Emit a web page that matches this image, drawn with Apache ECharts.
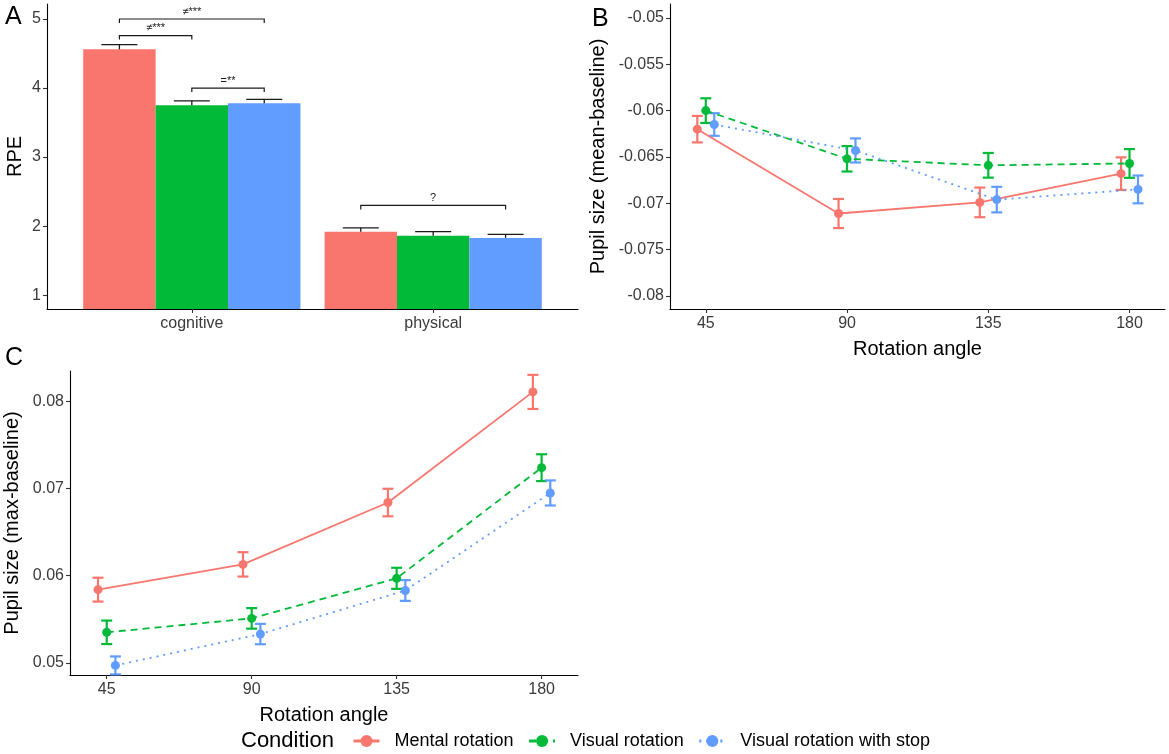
<!DOCTYPE html>
<html>
<head>
<meta charset="utf-8">
<script src="https://cdn.jsdelivr.net/npm/echarts@6/dist/echarts.min.js"></script>
<style>html,body{margin:0;padding:0;background:#fff}#chart{width:1169px;height:754px}</style>
</head>
<body>
<div id="chart"></div>
<script>
// ---------- data ----------
const conditions = ['Mental rotation', 'Visual rotation', 'Visual rotation with stop'];

// Panel A: RPE
const rpeCategories = ['cognitive', 'physical'];
const rpeMental = [4.56, 1.92];
const rpeVisual = [3.75, 1.86];
const rpeVisualStop = [3.78, 1.83];
const rpeMentalSE = [0.07, 0.055];
const rpeVisualSE = [0.065, 0.06];
const rpeVisualStopSE = [0.055, 0.05];
const rpeTicks = [1, 2, 3, 4, 5];

// significance brackets (panel A)
const sigGroup = ['cognitive', 'cognitive', 'cognitive', 'physical'];
const sigFrom = ['Mental rotation', 'Mental rotation', 'Visual rotation', 'Mental rotation'];
const sigTo = ['Visual rotation with stop', 'Visual rotation', 'Visual rotation with stop', 'Visual rotation with stop'];
const sigLevel = [5.0, 4.76, 4.0, 2.3];
const sigLabel = ['≠***', '≠***', '=**', '?'];

// Panels B and C
const angles = [45, 90, 135, 180];

const meanMental = [-0.0620, -0.0711, -0.0699, -0.0668];
const meanVisual = [-0.0600, -0.0652, -0.0659, -0.0657];
const meanVisualStop = [-0.0615, -0.0643, -0.0696, -0.0685];
const meanMentalSE = [0.00143, 0.00157, 0.0016, 0.00176];
const meanVisualSE = [0.00133, 0.00137, 0.00133, 0.00155];
const meanVisualStopSE = [0.00122, 0.0013, 0.00138, 0.0015];
const meanTicks = [-0.08, -0.075, -0.07, -0.065, -0.06, -0.055, -0.05];
const meanTickLabels = ['-0.08', '-0.075', '-0.07', '-0.065', '-0.06', '-0.055', '-0.05'];

const maxMental = [0.0584, 0.0613, 0.0684, 0.0811];
const maxVisual = [0.0535, 0.0551, 0.0597, 0.0724];
const maxVisualStop = [0.0497, 0.0533, 0.0583, 0.0695];
const maxMentalSE = [0.00137, 0.0014, 0.00158, 0.00196];
const maxVisualSE = [0.00135, 0.00118, 0.00121, 0.00154];
const maxVisualStopSE = [0.00103, 0.00117, 0.00119, 0.00144];
const maxTicks = [0.05, 0.06, 0.07, 0.08];
const maxTickLabels = ['0.05', '0.06', '0.07', '0.08'];

// ---------- style ----------
const FONT = '"Liberation Sans", Arial, sans-serif';
const colors = ['#F8766D', '#00BA38', '#619CFF'];
const lineTypes = ['solid', [7, 5], [2, 5]];
const barDodge = 0.3;     // x-units between bars within a group
const pointDodge = 2.7;   // x-units between conditions in line panels

const rpeValues = [rpeMental, rpeVisual, rpeVisualStop];
const rpeSE = [rpeMentalSE, rpeVisualSE, rpeVisualStopSE];
const meanValues = [meanMental, meanVisual, meanVisualStop];
const meanSE = [meanMentalSE, meanVisualSE, meanVisualStopSE];
const maxValues = [maxMental, maxVisual, maxVisualStop];
const maxSE = [maxMentalSE, maxVisualSE, maxVisualStopSE];

const groupPos = c => rpeCategories.indexOf(c) + 1;
const condOffset = c => conditions.indexOf(c) - 1;

function errorSeries(name, xi, yi, data, color, capPx, lw, bothCaps, z) {
  return {
    type: 'custom', name: name, xAxisIndex: xi, yAxisIndex: yi, z: z,
    silent: true,
    encode: { x: 0, y: [1, 2] },
    data: data,
    renderItem: function (params, api) {
      const x = api.value(0), lo = api.value(1), hi = api.value(2);
      const pt = api.coord([x, hi]);
      const pb = api.coord([x, lo]);
      const h = capPx / 2;
      const st = { stroke: color, lineWidth: lw };
      const children = [
        { type: 'line', shape: { x1: pt[0], y1: pt[1], x2: pb[0], y2: pb[1] }, style: st },
        { type: 'line', shape: { x1: pt[0] - h, y1: pt[1], x2: pt[0] + h, y2: pt[1] }, style: st }
      ];
      if (bothCaps) children.push({ type: 'line', shape: { x1: pb[0] - h, y1: pb[1], x2: pb[0] + h, y2: pb[1] }, style: st });
      return { type: 'group', children: children };
    }
  };
}

const axisLineStyle = { show: true, onZero: false, lineStyle: { color: '#000', width: 1.1 } };
const tickStyle = { show: true, length: 4, lineStyle: { color: '#333', width: 1.1 } };
const labelBase = { color: '#3a3a3a', fontSize: 16, fontFamily: FONT };

function lineX(gridIndex, nameGap) {
  return {
    type: 'value', gridIndex: gridIndex, min: 33.6, max: 191.3,
    name: 'Rotation angle', nameLocation: 'middle', nameGap: nameGap,
    nameTextStyle: { color: '#000', fontSize: 20, fontFamily: FONT },
    axisLine: axisLineStyle,
    axisTick: Object.assign({}, tickStyle, { customValues: angles }),
    axisLabel: Object.assign({}, labelBase, { customValues: angles, margin: 7, formatter: v => String(v) }),
    splitLine: { show: false }
  };
}

const series = [];
// line panels (C first so that the legend takes line icons)
[[2, maxValues, maxSE], [1, meanValues, meanSE]].forEach(function (p) {
  const gi = p[0], vals = p[1], ses = p[2];
  conditions.forEach(function (c, i) {
    const xs = angles.map(a => a + condOffset(c) * pointDodge);
    series.push(errorSeries('err-' + gi + '-' + i, gi, gi,
      xs.map((x, k) => [x, vals[i][k] - ses[i][k], vals[i][k] + ses[i][k]]),
      colors[i], 11, 2.2, true, 3));
    series.push({
      type: 'line', name: c, xAxisIndex: gi, yAxisIndex: gi, z: 4,
      data: xs.map((x, k) => [x, vals[i][k]]),
      symbol: 'circle', symbolSize: 9, showSymbol: true,
      lineStyle: { color: colors[i], width: 1.8, type: lineTypes[i] },
      itemStyle: { color: colors[i] },
      emphasis: { disabled: true }
    });
  });
});

// bar panel
conditions.forEach(function (c, i) {
  series.push({
    type: 'bar', name: c, xAxisIndex: 0, yAxisIndex: 0,
    data: rpeCategories.map((g, j) => [groupPos(g), rpeValues[i][j]]),
    barWidth: 72.4, barGap: '0%', clip: true,
    itemStyle: { color: colors[i] },
    emphasis: { disabled: true }, z: 2
  });
});
conditions.forEach(function (c, i) {
  series.push(errorSeries('errbar-' + i, 0, 0,
    rpeCategories.map((g, j) => [groupPos(g) + condOffset(c) * barDodge, rpeValues[i][j], rpeValues[i][j] + rpeSE[i][j]]),
    '#1a1a1a', 36, 1.3, false, 5));
});
series.push({
  type: 'custom', name: 'brackets', xAxisIndex: 0, yAxisIndex: 0, z: 6, silent: true,
  encode: { x: [0, 1], y: 2 },
  data: sigLabel.map((l, k) => [
    groupPos(sigGroup[k]) + condOffset(sigFrom[k]) * barDodge,
    groupPos(sigGroup[k]) + condOffset(sigTo[k]) * barDodge,
    sigLevel[k]
  ]),
  renderItem: function (params, api) {
    const a = api.coord([api.value(0), api.value(2)]);
    const b = api.coord([api.value(1), api.value(2)]);
    const leg = 4;
    return {
      type: 'group', children: [
        { type: 'polyline', shape: { points: [[a[0], a[1] + leg], [a[0], a[1]], [b[0], b[1]], [b[0], b[1] + leg]] },
          style: { stroke: '#1a1a1a', lineWidth: 1.2, fill: null } },
        { type: 'text', x: (a[0] + b[0]) / 2, y: a[1] - 2,
          style: { text: sigLabel[params.dataIndex], align: 'center', verticalAlign: 'bottom', fill: '#1a1a1a', fontSize: 11, fontFamily: FONT } }
      ]
    };
  }
});

const option = {
  animation: false,
  backgroundColor: '#fff',
  textStyle: { fontFamily: FONT },
  grid: [
    { left: 47, top: 4, width: 531, height: 305, outerBoundsMode: 'none' },
    { left: 670, top: 4, width: 495, height: 305, outerBoundsMode: 'none' },
    { left: 70, top: 371, width: 508, height: 304, outerBoundsMode: 'none' }
  ],
  xAxis: [
    {
      type: 'value', gridIndex: 0, min: 0.4, max: 2.6,
      axisLine: axisLineStyle,
      axisTick: Object.assign({}, tickStyle, { customValues: rpeCategories.map(groupPos) }),
      axisLabel: Object.assign({}, labelBase, {
        customValues: rpeCategories.map(groupPos), margin: 7,
        formatter: v => rpeCategories[Math.round(v) - 1] || ''
      }),
      splitLine: { show: false }
    },
    lineX(1, 30),
    lineX(2, 30)
  ],
  yAxis: [
    {
      type: 'value', gridIndex: 0, min: 0.8, max: 5.217,
      name: 'RPE', nameLocation: 'middle', nameGap: 22,
      nameTextStyle: { color: '#000', fontSize: 20, fontFamily: FONT },
      axisLine: axisLineStyle,
      axisTick: Object.assign({}, tickStyle, { customValues: rpeTicks }),
      axisLabel: Object.assign({}, labelBase, { customValues: rpeTicks, margin: 6, formatter: v => String(v) }),
      splitLine: { show: false }
    },
    {
      type: 'value', gridIndex: 1, min: -0.0814, max: -0.0485,
      name: 'Pupil size (mean-baseline)', nameLocation: 'middle', nameGap: 62,
      nameTextStyle: { color: '#000', fontSize: 20, fontFamily: FONT },
      axisLine: axisLineStyle,
      axisTick: Object.assign({}, tickStyle, { customValues: meanTicks }),
      axisLabel: Object.assign({}, labelBase, {
        customValues: meanTicks, margin: 6,
        formatter: v => { const k = meanTicks.findIndex(t => Math.abs(t - v) < 1e-9); return k >= 0 ? meanTickLabels[k] : ''; }
      }),
      splitLine: { show: false }
    },
    {
      type: 'value', gridIndex: 2, min: 0.0486, max: 0.0835,
      name: 'Pupil size (max-baseline)', nameLocation: 'middle', nameGap: 48,
      nameTextStyle: { color: '#000', fontSize: 20, fontFamily: FONT },
      axisLine: axisLineStyle,
      axisTick: Object.assign({}, tickStyle, { customValues: maxTicks }),
      axisLabel: Object.assign({}, labelBase, {
        customValues: maxTicks, margin: 6,
        formatter: v => { const k = maxTicks.findIndex(t => Math.abs(t - v) < 1e-9); return k >= 0 ? maxTickLabels[k] : ''; }
      }),
      splitLine: { show: false }
    }
  ],
  legend: {
    data: conditions,
    left: 352, top: 732, padding: 0,
    orient: 'horizontal',
    itemWidth: 26, itemHeight: 15, itemGap: 14,
    selectedMode: false,
    lineStyle: { width: 3 },
    textStyle: { fontSize: 18, color: '#000', fontFamily: FONT, padding: [0, 0, 0, 10] }
  },
  graphic: [
    { type: 'text', left: 5, top: 5, style: { text: 'A', fontSize: 25, fill: '#000', fontFamily: FONT } },
    { type: 'text', left: 592, top: 7, style: { text: 'B', fontSize: 25, fill: '#000', fontFamily: FONT } },
    { type: 'text', left: 5, top: 346, style: { text: 'C', fontSize: 25, fill: '#000', fontFamily: FONT } },
    { type: 'text', left: 241, top: 730, style: { text: 'Condition', fontSize: 22, fill: '#000', fontFamily: FONT } }
  ],
  series: series
};

const chart = echarts.init(document.getElementById('chart'), null, { renderer: 'canvas' });
chart.setOption(option);
</script>
</body>
</html>
